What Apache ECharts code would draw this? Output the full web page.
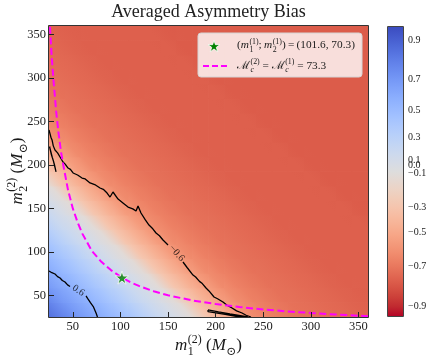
<!DOCTYPE html>
<html>
<head>
<meta charset="utf-8">
<script src="https://cdn.jsdelivr.net/npm/echarts@6/dist/echarts.min.js"></script>
<style>
html, body { margin: 0; padding: 0; background: #fff; }
#chart { width: 436px; height: 360px; }
</style>
</head>
<body>
<div id="chart"></div>
<script>
// ---- values ----
const xTicks = [50, 100, 150, 200, 250, 300, 350]
const yTicks = [50, 100, 150, 200, 250, 300, 350]

// colorbar: tick labels and where they sit along the bar (0 = bottom, 1 = top)
const cbarLabels = ['0.9', '0.7', '0.5', '0.3', '0.1', '0.0', '\u22120.1', '\u22120.3', '\u22120.5', '\u22120.7', '\u22120.9']
const cbarValues = [0.9, 0.7, 0.5, 0.3, 0.1, 0, -0.1, -0.3, -0.5, -0.7, -0.9]
const cbarPos = [0.955, 0.819, 0.713, 0.619, 0.540, 0.520, 0.495, 0.377, 0.291, 0.173, 0.035]

// bias field, 20 x 20 cells over m1, m2 in [25, 360]; row 0 = bottom, column 0 = left
const heatRows = [
  [0.77, 0.69, 0.60, 0.52, 0.42, 0.31, 0.18, 0.06, -0.12, -0.30, -0.45, -0.56, -0.63, -0.67, -0.70, -0.72, -0.73, -0.74, -0.75, -0.76],
  [0.69, 0.60, 0.52, 0.42, 0.31, 0.18, 0.06, -0.12, -0.30, -0.45, -0.56, -0.63, -0.67, -0.70, -0.72, -0.73, -0.74, -0.75, -0.76, -0.77],
  [0.60, 0.52, 0.42, 0.31, 0.18, 0.06, -0.12, -0.30, -0.45, -0.56, -0.63, -0.67, -0.70, -0.72, -0.73, -0.74, -0.75, -0.76, -0.77, -0.77],
  [0.52, 0.42, 0.31, 0.18, 0.06, -0.12, -0.30, -0.45, -0.56, -0.63, -0.67, -0.70, -0.72, -0.73, -0.74, -0.75, -0.76, -0.77, -0.77, -0.77],
  [0.42, 0.31, 0.18, 0.06, -0.12, -0.30, -0.45, -0.56, -0.63, -0.67, -0.70, -0.72, -0.73, -0.74, -0.75, -0.76, -0.77, -0.77, -0.77, -0.77],
  [0.31, 0.18, 0.06, -0.12, -0.30, -0.45, -0.56, -0.63, -0.67, -0.70, -0.72, -0.73, -0.74, -0.75, -0.76, -0.77, -0.77, -0.77, -0.77, -0.77],
  [0.18, 0.06, -0.12, -0.30, -0.45, -0.56, -0.63, -0.67, -0.70, -0.72, -0.73, -0.74, -0.75, -0.76, -0.77, -0.77, -0.77, -0.77, -0.77, -0.77],
  [0.06, -0.12, -0.30, -0.45, -0.56, -0.63, -0.67, -0.70, -0.72, -0.73, -0.74, -0.75, -0.76, -0.77, -0.77, -0.77, -0.77, -0.77, -0.77, -0.78],
  [-0.12, -0.30, -0.45, -0.56, -0.63, -0.67, -0.70, -0.72, -0.73, -0.74, -0.75, -0.76, -0.77, -0.77, -0.77, -0.77, -0.77, -0.77, -0.78, -0.78],
  [-0.30, -0.45, -0.56, -0.63, -0.67, -0.70, -0.72, -0.73, -0.74, -0.75, -0.76, -0.77, -0.77, -0.77, -0.77, -0.77, -0.77, -0.78, -0.78, -0.78],
  [-0.45, -0.56, -0.63, -0.67, -0.70, -0.72, -0.73, -0.74, -0.75, -0.76, -0.77, -0.77, -0.77, -0.77, -0.77, -0.77, -0.78, -0.78, -0.78, -0.78],
  [-0.56, -0.63, -0.67, -0.70, -0.72, -0.73, -0.74, -0.75, -0.76, -0.77, -0.77, -0.77, -0.77, -0.77, -0.77, -0.78, -0.78, -0.78, -0.78, -0.78],
  [-0.63, -0.67, -0.70, -0.72, -0.73, -0.74, -0.75, -0.76, -0.77, -0.77, -0.77, -0.77, -0.77, -0.77, -0.78, -0.78, -0.78, -0.78, -0.78, -0.78],
  [-0.67, -0.70, -0.72, -0.73, -0.74, -0.75, -0.76, -0.77, -0.77, -0.77, -0.77, -0.77, -0.77, -0.78, -0.78, -0.78, -0.78, -0.78, -0.78, -0.78],
  [-0.70, -0.72, -0.73, -0.74, -0.75, -0.76, -0.77, -0.77, -0.77, -0.77, -0.77, -0.77, -0.78, -0.78, -0.78, -0.78, -0.78, -0.78, -0.78, -0.78],
  [-0.72, -0.73, -0.74, -0.75, -0.76, -0.77, -0.77, -0.77, -0.77, -0.77, -0.77, -0.78, -0.78, -0.78, -0.78, -0.78, -0.78, -0.78, -0.78, -0.78],
  [-0.73, -0.74, -0.75, -0.76, -0.77, -0.77, -0.77, -0.77, -0.77, -0.77, -0.78, -0.78, -0.78, -0.78, -0.78, -0.78, -0.78, -0.78, -0.78, -0.78],
  [-0.74, -0.75, -0.76, -0.77, -0.77, -0.77, -0.77, -0.77, -0.77, -0.78, -0.78, -0.78, -0.78, -0.78, -0.78, -0.78, -0.78, -0.78, -0.78, -0.78],
  [-0.75, -0.76, -0.77, -0.77, -0.77, -0.77, -0.77, -0.77, -0.78, -0.78, -0.78, -0.78, -0.78, -0.78, -0.78, -0.78, -0.78, -0.78, -0.78, -0.78],
  [-0.76, -0.77, -0.77, -0.77, -0.77, -0.77, -0.77, -0.78, -0.78, -0.78, -0.78, -0.78, -0.78, -0.78, -0.78, -0.78, -0.78, -0.78, -0.78, -0.78]
]

// -0.6 contour (upper), split where the label sits
const contourUpperA = [[25, 240.3], [27, 232], [28.2, 228.8], [29.5, 222], [31.3, 217.2], [34, 214], [36.6, 209.2], [39.7, 203.4],
  [42, 201], [45.0, 196.5], [47.5, 195], [50.3, 190.8], [55, 188.5], [59.7, 185.0], [63, 184], [68.1, 179.3], [73, 177.5],
  [78.6, 173.5], [82, 172], [86.0, 167.7], [89.1, 163.1], [92.2, 168.9], [97.5, 160.8], [103, 156], [108.0, 151.6],
  [113, 149.5], [116.4, 147.0], [118.5, 152.8], [121.6, 144.7], [126, 137], [130.0, 130.9], [134, 126.5], [137.4, 121.7],
  [141, 118.5], [144.7, 113.6], [150.0, 107.9]]
const contourUpperB = [[165.7, 88.3], [170, 82], [172, 80.5], [176.2, 73.3], [179, 71], [183, 66], [186, 63.5], [189.9, 58.4],
  [193, 55], [198.3, 48.0], [202, 46], [207.7, 42.3], [212, 38.5], [217.2, 35.4], [222, 32], [227.7, 29.6], [232, 27], [237.1, 25]]
const contourLoopLeft = [[25.6, 221], [27.5, 212], [29.8, 204], [32.4, 192], [30.6, 201], [28.4, 209], [25.6, 221]]
const contourLoopBottom = [[192, 33.1], [203, 30.8], [215, 28.5], [234, 25], [225.6, 25], [210, 27.9], [192, 31.1], [192, 33.1]]
// +0.6 contour (lower)
const contourLowerA = [[25, 78.0], [28, 76], [31.3, 74.5], [34, 71.5], [36.6, 69.9], [39, 67], [41.8, 65.3], [44.5, 62], [47.1, 60.1]]
const contourLowerB = [[63.9, 49.2], [65.5, 46.5], [67.0, 44.6], [68.5, 41.5], [70.2, 40.0], [71.5, 37], [72.3, 34.8], [73.5, 32],
  [74.4, 29.6], [75.9, 25]]
const contourLabels = [
  { name: '\u22120.6', at: [159.1, 98.3], rot: -48 },
  { name: '0.6', at: [55.8, 55.5], rot: -33 }
]

// equal chirp-mass curve (dashed magenta)
const chirpCurve = [[26, 359], [27, 340], [28, 322], [30, 294], [32.5, 262], [35, 237], [37.5, 216], [40, 200], [45, 171],
  [50, 150], [55, 134], [60, 121], [65, 111], [70, 101], [80, 88.5], [90, 79], [101.6, 70.3], [110, 65.3], [120, 60.5],
  [135, 54.6], [150, 50], [175, 44.2], [200, 40], [225, 36.5], [250, 33.7], [275, 31.5], [300, 29.6], [330, 27.6], [360, 26]]
const injection = [101.6, 70.3]

// ---- colour map (coolwarm) and the colorbar's non-linear scale ----
const coolwarm = [
  [59, 76, 192], [68, 90, 204], [77, 104, 215], [87, 117, 225], [98, 130, 234], [108, 142, 241], [119, 154, 247], [130, 165, 251],
  [141, 176, 254], [152, 185, 255], [163, 194, 255], [174, 201, 253], [184, 208, 249], [194, 213, 244], [204, 217, 238], [213, 219, 230],
  [221, 221, 221], [229, 216, 209], [236, 211, 197], [241, 204, 184], [245, 196, 173], [247, 187, 160], [247, 177, 148], [247, 166, 135],
  [244, 154, 123], [241, 141, 111], [236, 127, 99], [229, 112, 88], [222, 96, 77], [213, 80, 66], [203, 62, 56], [192, 40, 47], [180, 4, 38]
]
function cw(t) {
  t = Math.max(0, Math.min(1, t))
  const f = t * 32, i = Math.min(31, Math.floor(f)), r = f - i
  const a = coolwarm[i], b = coolwarm[i + 1]
  return 'rgb(' + [0, 1, 2].map(k => Math.round(a[k] + (b[k] - a[k]) * r)).join(',') + ')'
}
const normPairs = cbarValues.map((v, i) => [v, cbarPos[i]]).concat([[-1, 0], [1, 1]]).sort((a, b) => a[0] - b[0])
function norm(v) {
  v = Math.max(-1, Math.min(1, v))
  for (let i = 0; i < normPairs.length - 1; i++) {
    const [v0, p0] = normPairs[i], [v1, p1] = normPairs[i + 1]
    if (v <= v1) return p0 + (p1 - p0) * (v - v0) / (v1 - v0)
  }
  return 1
}
const colorOf = v => cw(1 - norm(v))

// shading: each cell gets a diagonal gradient between its corner colours (like gouraud shading)
const N = heatRows.length
const CELL = (360 - 25) / N
function cellVal(i, j) {
  if (i < 0) return 2 * cellVal(0, j) - cellVal(1, j)
  if (i >= N) return 2 * cellVal(N - 1, j) - cellVal(N - 2, j)
  if (j < 0) return 2 * cellVal(i, 0) - cellVal(i, 1)
  if (j >= N) return 2 * cellVal(i, N - 1) - cellVal(i, N - 2)
  return heatRows[j][i]
}
const cornerVal = (a, b) => (cellVal(a - 1, b - 1) + cellVal(a, b - 1) + cellVal(a - 1, b) + cellVal(a, b)) / 4

const heatData = []
heatRows.forEach((row, j) => row.forEach((v, i) => heatData.push([25 + (i + 0.5) * CELL, 25 + (j + 0.5) * CELL, v, i, j])))

// ---- text helpers (math-ish labels laid out from pieces) ----
const SERIF = '"Liberation Serif","DejaVu Serif",serif'
const meas = document.createElement('canvas').getContext('2d')
function textWidth(t, font) { meas.font = font; return meas.measureText(t).width }
function fontOf(size, it) { return (it ? 'italic ' : '') + size + 'px ' + SERIF }
function mathRow(parts, size) {
  const small = Math.round(size * 0.7 * 10) / 10
  const items = []
  let x = 0
  parts.forEach(([t, it, sub, sup]) => {
    if (t) {
      const f = fontOf(size, it)
      items.push({ t, f, x, b: 0, s: size })
      x += textWidth(t, f)
    }
    let w = 0
    if (sub) {
      const f = fontOf(small, /^[a-z]$/.test(sub))
      items.push({ t: sub, f, x: x + 0.5, b: size * 0.28, s: small })
      w = Math.max(w, textWidth(sub, f) + 0.5)
    }
    if (sup) {
      const f = fontOf(small, false)
      items.push({ t: sup, f, x: x + 0.5, b: -size * 0.42, s: small })
      w = Math.max(w, textWidth(sup, f) + 0.5)
    }
    x += w
  })
  return { items, width: x }
}
function mathGraphic(row, x0, baseline, z) {
  return row.items.map(it => ({
    type: 'text', x: x0 + it.x, y: baseline + it.b - 0.34 * it.s, z, silent: true,
    style: { text: it.t, font: it.f, fill: '#1a1a1a', align: 'left', verticalAlign: 'middle' }
  }))
}

const xTitle = mathRow([['m', 1, '1', '(2)'], [' (', 0], ['M', 1, '\u2299'], [')', 0]], 17)
const yTitle = mathRow([['m', 1, '2', '(2)'], [' (', 0], ['M', 1, '\u2299'], [')', 0]], 17)
const legend1 = mathRow([['(', 0], ['m', 1, '1', '(1)'], [';\u2009', 0], ['m', 1, '2', '(1)'], [')\u2009=\u2009(101.6, 70.3)', 0]], 11.3)
const legend2 = mathRow([['\u2133', 0, 'c', '(2)'], [' = ', 0], ['\u2133', 0, 'c', '(1)'], [' = 73.3', 0]], 11.3)

const STAR_PTS = [[50, 0], [61.2, 34.5], [97.6, 34.5], [68.2, 55.9], [79.4, 90.5], [50, 69.1], [20.6, 90.5], [31.8, 55.9], [2.4, 34.5], [38.8, 34.5]]
const STAR = 'path://M' + STAR_PTS.map(p => p.join(',')).join(' L') + ' Z'
function starPoly(cx, cy, size) {
  return STAR_PTS.map(([px, py]) => [cx + (px - 50) * size / 100, cy + (py - 45) * size / 100])
}

const chart = echarts.init(document.getElementById('chart'), null, { renderer: 'canvas' })

const axisText = { fontFamily: SERIF, fontSize: 12.5, color: '#222' }
const option = {
  animation: false,
  grid: [
    { left: 49, top: 26, width: 319, height: 291 },
    { left: 388, top: 27, width: 15, height: 289 }
  ],
  xAxis: [
    {
      gridIndex: 0, type: 'value', min: 25, max: 360, z: 10,
      axisLine: { show: false }, splitLine: { show: false },
      axisTick: { inside: true, length: 5, lineStyle: { color: '#222' }, customValues: xTicks },
      axisLabel: Object.assign({ customValues: xTicks, margin: 3 }, axisText)
    },
    { gridIndex: 1, type: 'category', data: ['c'], show: false }
  ],
  yAxis: [
    {
      gridIndex: 0, type: 'value', min: 25, max: 360, z: 10,
      axisLine: { show: false }, splitLine: { show: false },
      axisTick: { inside: true, length: 5, lineStyle: { color: '#222' }, customValues: yTicks },
      axisLabel: Object.assign({ customValues: yTicks, margin: 3 }, axisText)
    },
    {
      gridIndex: 1, type: 'value', min: 0, max: 1, position: 'right', z: 10,
      axisLine: { show: false }, splitLine: { show: false },
      axisTick: { inside: true, length: 4, lineStyle: { color: '#222' }, customValues: cbarPos },
      axisLabel: {
        customValues: cbarPos, margin: 5, fontFamily: SERIF, fontSize: 10, color: '#222',
        formatter: v => {
          let best = 0
          cbarPos.forEach((p, i) => { if (Math.abs(p - v) < Math.abs(cbarPos[best] - v)) best = i })
          return cbarLabels[best]
        }
      }
    }
  ],
  series: [
    {
      type: 'custom', xAxisIndex: 0, yAxisIndex: 0, data: heatData, silent: true, z: 1,
      encode: { x: 0, y: 1 },
      renderItem: (params, api) => {
        const i = api.value(3), j = api.value(4)
        const x0 = 25 + i * CELL, y0 = 25 + j * CELL
        const p0 = api.coord([x0, y0]), p1 = api.coord([x0 + CELL, y0 + CELL])
        const lo = cornerVal(i, j), hi = cornerVal(i + 1, j + 1), mid = api.value(2)
        return {
          type: 'rect',
          shape: { x: p0[0] - 0.4, y: p1[1] - 0.4, width: p1[0] - p0[0] + 0.8, height: p0[1] - p1[1] + 0.8 },
          style: {
            fill: new echarts.graphic.LinearGradient(0, 1, 1, 0, [
              { offset: 0, color: colorOf(lo) }, { offset: 0.5, color: colorOf(mid) }, { offset: 1, color: colorOf(hi) }
            ])
          }
        }
      }
    },
    ...[contourUpperA, contourUpperB, contourLoopLeft, contourLoopBottom, contourLowerA, contourLowerB].map(d => ({
      type: 'line', xAxisIndex: 0, yAxisIndex: 0, data: d, showSymbol: false, silent: true, z: 5,
      lineStyle: { color: '#000', width: 1.3 }
    })),
    {
      type: 'line', xAxisIndex: 0, yAxisIndex: 0, data: chirpCurve, showSymbol: false, silent: true, z: 6,
      lineStyle: { color: '#ff00ff', width: 2, type: [7, 3.5] }
    },
    {
      type: 'scatter', xAxisIndex: 0, yAxisIndex: 0, silent: true, z: 7,
      data: contourLabels.map(l => ({
        value: l.at,
        label: { show: true, position: 'inside', formatter: l.name, rotate: l.rot, fontFamily: SERIF, fontSize: 10, color: '#000' }
      })),
      symbolSize: 1, itemStyle: { color: 'transparent' }
    },
    {
      type: 'scatter', xAxisIndex: 0, yAxisIndex: 0, data: [injection], silent: true, z: 8,
      symbol: STAR, symbolSize: 13, itemStyle: { color: '#008000', borderColor: '#fff', borderWidth: 1 }
    }
  ],
  graphic: [
    {
      type: 'rect', z: 1, silent: true, shape: { x: 388, y: 27, width: 15, height: 289 },
      style: { fill: new echarts.graphic.LinearGradient(0, 0, 0, 1, coolwarm.map((c, k) => ({ offset: k / 32, color: 'rgb(' + c.join(',') + ')' }))) }
    },
    { type: 'rect', z: 20, silent: true, shape: { x: 387.5, y: 26.5, width: 16, height: 290 }, style: { fill: 'none', stroke: '#444', lineWidth: 1 } },
    { type: 'rect', z: 20, silent: true, shape: { x: 48.5, y: 25.5, width: 320, height: 292 }, style: { fill: 'none', stroke: '#333', lineWidth: 1 } },
    {
      type: 'text', z: 20, silent: true, x: 208.5, y: 12,
      style: { text: 'Averaged Asymmetry Bias', font: '18px ' + SERIF, fill: '#222', align: 'center', verticalAlign: 'middle' }
    },
    {
      type: 'rect', z: 20, silent: true, shape: { x: 198, y: 33, width: 164, height: 44, r: 3 },
      style: { fill: 'rgba(255,255,255,0.8)', stroke: '#d4d4d4', lineWidth: 1 }
    },
    {
      type: 'polygon', z: 21, silent: true,
      shape: { points: starPoly(214, 46, 12.5) },
      style: { fill: '#008000', stroke: '#fff', lineWidth: 0.8 }
    },
    {
      type: 'line', z: 21, silent: true, shape: { x1: 203, y1: 66, x2: 227, y2: 66 },
      style: { stroke: '#ff00ff', lineWidth: 2, lineDash: [6, 3] }
    },
    ...mathGraphic(legend1, 237, 49, 21),
    ...mathGraphic(legend2, 237, 69.5, 21),
    ...mathGraphic(xTitle, 208.5 - xTitle.width / 2, 351, 21),
    { type: 'group', x: 23.5, y: 171, rotation: Math.PI / 2, children: mathGraphic(yTitle, -yTitle.width / 2, 0, 21) }
  ]
}
chart.setOption(option)
</script>
</body>
</html>
